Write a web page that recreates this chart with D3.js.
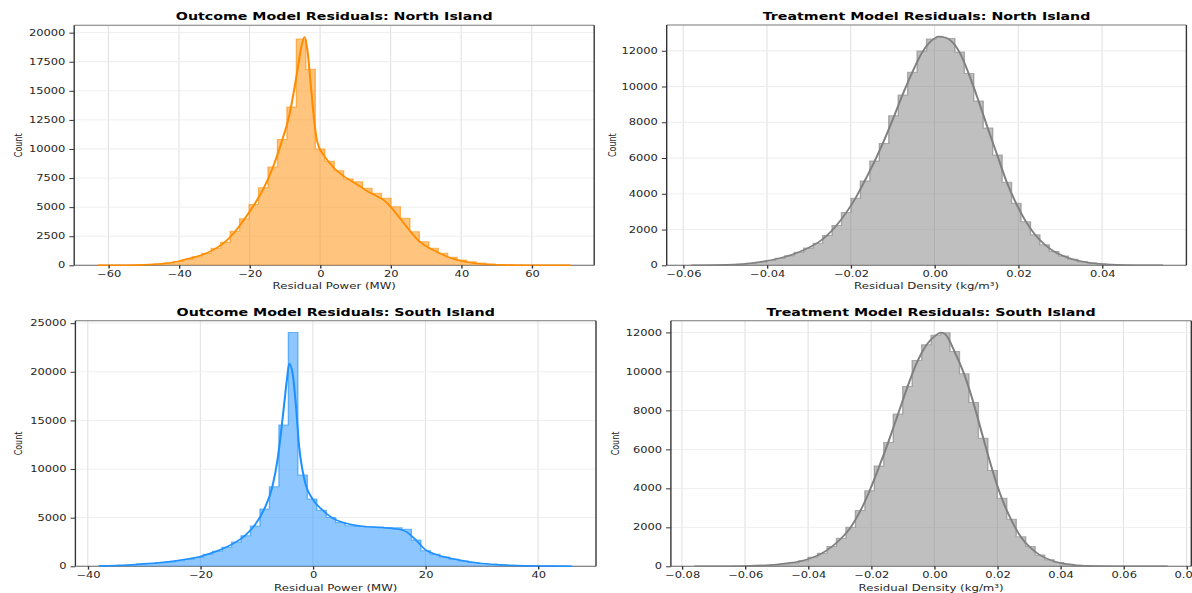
<!DOCTYPE html>
<html>
<head>
<meta charset="utf-8">
<script src="https://cdn.jsdelivr.net/npm/d3@7"></script>
<style>
  body { margin: 0; background: #fff; }
  svg { display: block; }
  text { font-family: "DejaVu Sans", sans-serif; fill: #262626; }
</style>
</head>
<body>
<div class="chart"></div>
<script>
// ---- data (50 equal bins over [min, max] of each residual series) ----
const northPowerRange = [-63, 71];
const northPowerCounts = [2, 4, 8, 15, 30, 60, 110, 200, 330, 500,
  740, 1030, 1460, 1980, 2920, 4000, 5220, 6660, 8460, 10820,
  13600, 19450, 16850, 10000, 8950, 8130, 7420, 7190, 6620, 6190,
  5760, 5040, 4040, 2890, 2030, 1460, 1030, 690, 456, 310,
  200, 120, 70, 40, 22, 12, 7, 4, 2, 1];
const northPowerKde = [[-63,2],[-55,12],[-50,40],[-45,130],[-40,360],[-37.5,560],[-34.9,760],[-32.2,1050],
  [-29.5,1470],[-26.8,2050],[-24.1,2900],[-21.5,3950],[-18.8,5150],[-16.1,6550],[-13.4,8400],[-10.7,10800],
  [-8.8,12800],[-7.4,15000],[-6.4,16800],[-5.5,18500],[-4.4,19650],[-3.6,18500],[-2.6,15400],[-1.7,12500],
  [-1.0,10900],[-0.3,10150],[1.2,9400],[4.0,8350],[6.5,7700],[8.8,7250],[11,6850],[13.5,6350],[16,5950],
  [18.3,5550],[20.5,4850],[23,3900],[25.5,2950],[27.8,2150],[30,1650],[32.5,1250],[35,880],[37.5,580],
  [40,370],[42.5,230],[45,130],[50,38],[55,11],[60,4],[65,2],[71,1]];

const northDensityRange = [-0.0583, 0.0545];
const northDensityCounts = [2, 4, 8, 15, 30, 55, 95, 160, 270, 390,
  540, 730, 970, 1232, 1661, 2230, 2960, 3750, 4720, 5840,
  6810, 8370, 9520, 10800, 11980, 12660, 12740, 12690, 11930, 10730,
  9190, 7680, 6170, 4650, 3470, 2440, 1715, 1150, 765, 522,
  336, 205, 125, 72, 40, 22, 12, 6, 3, 2];
const northDensityKde = [[-0.058,2],[-0.052,12],[-0.048,40],[-0.044,110],[-0.0414,200],[-0.0391,290],
  [-0.0369,400],[-0.0346,550],[-0.0324,740],[-0.0301,980],[-0.0279,1260],[-0.0256,1680],[-0.0234,2230],
  [-0.0211,2940],[-0.0188,3780],[-0.0166,4750],[-0.0143,5820],[-0.0121,6950],[-0.0098,8250],[-0.0076,9550],
  [-0.0053,10800],[-0.0031,11850],[-0.0008,12550],[0.0010,12800],[0.0025,12750],[0.0037,12600],[0.0060,11900],
  [0.0082,10700],[0.0105,9200],[0.0127,7680],[0.0150,6150],[0.0172,4680],[0.0195,3450],[0.0218,2450],
  [0.0240,1720],[0.0263,1160],[0.0285,780],[0.0308,520],[0.0330,340],[0.0353,210],[0.0375,130],[0.040,75],
  [0.045,22],[0.050,6],[0.0545,2]];

const southPowerRange = [-38.0, 46.1];
const southPowerCounts = [50, 80, 120, 170, 230, 290, 360, 450, 560, 700,
  900, 1230, 1560, 1960, 2510, 3150, 4150, 5900, 8170, 14540,
  24050, 9380, 6920, 5770, 5020, 4510, 4180, 4080, 4060, 4030,
  4000, 3960, 3800, 2710, 1590, 1240, 960, 720, 540, 400,
  290, 210, 150, 105, 75, 52, 36, 25, 17, 12];
const southPowerKde = [[-38,40],[-35,90],[-32,170],[-30,250],[-27,400],[-24,600],[-22,780],[-20.3,950],
  [-18.7,1240],[-17,1570],[-15.3,1990],[-13.6,2520],[-11.9,3250],[-10.25,4300],[-8.6,5950],[-7.2,8200],
  [-6.3,10900],[-5.7,13600],[-5.1,16700],[-4.6,19300],[-4.2,20850],[-3.6,19800],[-3.0,16400],[-2.45,12300],
  [-1.86,9900],[-1.26,8350],[-0.1,6950],[1.7,5780],[3.5,4950],[6.4,4350],[9.4,4080],[12.3,3980],[15.3,3800],
  [16.6,3550],[18.3,2700],[20,1700],[21.7,1250],[23.5,950],[26,640],[28,450],[30,300],[33,170],[36,90],
  [40,40],[43,22],[46,12]];

const southDensityRange = [-0.076, 0.074];
const southDensityCounts = [1, 2, 3, 5, 8, 13, 22, 38, 62, 105,
  175, 290, 460, 670, 1010, 1440, 2000, 2860, 3880, 5150,
  6350, 7810, 9220, 10560, 11370, 11850, 11980, 11020, 9880, 8400,
  6570, 4910, 3490, 2410, 1520, 1010, 580, 330, 190, 110,
  60, 35, 20, 12, 7, 4, 3, 2, 1, 1];
const southDensityKde = [[-0.076,2],[-0.06,20],[-0.05,90],[-0.045,190],[-0.0415,300],[-0.0385,460],
  [-0.0355,680],[-0.0325,1000],[-0.0295,1430],[-0.0265,2000],[-0.0235,2820],[-0.0205,3870],[-0.0175,5100],
  [-0.0145,6400],[-0.0115,7800],[-0.0085,9200],[-0.0055,10450],[-0.0025,11350],[0.0005,11850],[0.0021,12000],
  [0.0035,11900],[0.0065,11000],[0.0095,9850],[0.0125,8350],[0.0155,6600],[0.0185,4900],[0.0215,3450],
  [0.0245,2350],[0.0275,1500],[0.0305,950],[0.0335,580],[0.0365,340],[0.04,170],[0.045,60],[0.05,20],
  [0.06,4],[0.074,1]];

// tick values
const powerNorthXTicks = [-60, -40, -20, 0, 20, 40, 60];
const powerSouthXTicks = [-40, -20, 0, 20, 40];
const densityNorthXTicks = [-0.06, -0.04, -0.02, 0, 0.02, 0.04];
const densitySouthXTicks = [-0.08, -0.06, -0.04, -0.02, 0, 0.02, 0.04, 0.06, 0.08];
const northPowerYTicks = [0, 2500, 5000, 7500, 10000, 12500, 15000, 17500, 20000];
const southPowerYTicks = [0, 5000, 10000, 15000, 20000, 25000];
const densityYTicks = [0, 2000, 4000, 6000, 8000, 10000, 12000];

// the picture is stretched horizontally, so draw in a narrower frame and scale x
const SX = 1.38;

const svg = d3.select('.chart').append('svg')
  .attr('width', 1192)
  .attr('height', 593);
const root = svg.append('g').attr('transform', `scale(${SX},1)`);

const panels = [
  {title: 'Outcome Model Residuals: North Island', xlabel: 'Residual Power (MW)',
   range: northPowerRange, counts: northPowerCounts, kde: northPowerKde, color: '#ff8c00',
   xTicks: powerNorthXTicks, yTicks: northPowerYTicks, fmt: d3.format('d'),
   box: [74.2, 594.2, 25.3, 265.3], titleY: 20.5, xlabelY: 289, ylabelX: 22.3},
  {title: 'Treatment Model Residuals: North Island', xlabel: 'Residual Density (kg/m³)',
   range: northDensityRange, counts: northDensityCounts, kde: northDensityKde, color: '#808080',
   xTicks: densityNorthXTicks, yTicks: densityYTicks, fmt: d3.format('.2f'),
   box: [666.7, 1186.4, 25.0, 265.3], titleY: 20.5, xlabelY: 289, ylabelX: 615.5},
  {title: 'Outcome Model Residuals: South Island', xlabel: 'Residual Power (MW)',
   range: southPowerRange, counts: southPowerCounts, kde: southPowerKde, color: '#1e90ff',
   xTicks: powerSouthXTicks, yTicks: southPowerYTicks, fmt: d3.format('d'),
   box: [75.4, 596.0, 320.7, 566.3], titleY: 316.5, xlabelY: 591, ylabelX: 22.3},
  {title: 'Treatment Model Residuals: South Island', xlabel: 'Residual Density (kg/m³)',
   range: southDensityRange, counts: southDensityCounts, kde: southDensityKde, color: '#808080',
   xTicks: densitySouthXTicks, yTicks: densityYTicks, fmt: d3.format('.2f'),
   box: [670.9, 1191.3, 320.7, 566.3], titleY: 316.5, xlabelY: 591, ylabelX: 618.8}
];

function drawPanel(p) {
  const left = p.box[0] / SX, right = p.box[1] / SX;
  const top = p.box[2], bottom = p.box[3];
  const span = p.range[1] - p.range[0];
  const bw = span / p.counts.length;

  const xScale = d3.scaleLinear()
    .domain([p.range[0] - span * 0.05, p.range[1] + span * 0.05])
    .range([left, right]);
  const ymax = Math.max(d3.max(p.counts), d3.max(p.kde, d => d[1])) * 1.05;
  const yScale = d3.scaleLinear().domain([0, ymax]).range([bottom, top]);

  const g = root.append('g');

  // grid
  g.selectAll('.vgrid').data(p.xTicks.filter(t => xScale(t) <= right)).enter()
    .append('line')
    .attr('x1', d => xScale(d)).attr('x2', d => xScale(d))
    .attr('y1', top).attr('y2', bottom)
    .attr('stroke', '#e2e2e2').attr('stroke-width', 0.8);
  g.selectAll('.hgrid').data(p.yTicks).enter()
    .append('line')
    .attr('x1', left).attr('x2', right)
    .attr('y1', d => yScale(d)).attr('y2', d => yScale(d))
    .attr('stroke', '#ebebeb').attr('stroke-width', 0.8);

  // bottom spine under the bars
  g.append('line')
    .attr('x1', left).attr('x2', right).attr('y1', bottom).attr('y2', bottom)
    .attr('stroke', '#666').attr('stroke-width', 1);

  // histogram as a filled step shape with a step outline
  const steps = p.counts.map((c, i) => [p.range[0] + i * bw, c]);
  steps.push([p.range[1], p.counts[p.counts.length - 1]]);
  const area = d3.area()
    .x(d => xScale(d[0]))
    .y0(bottom)
    .y1(d => yScale(d[1]))
    .curve(d3.curveStepAfter);
  g.append('path').datum(steps)
    .attr('d', area)
    .attr('fill', p.color).attr('fill-opacity', 0.5);
  const outline = [[p.range[0], 0]].concat(steps, [[p.range[1], 0]]);
  const stepLine = d3.line()
    .x(d => xScale(d[0]))
    .y(d => yScale(d[1]))
    .curve(d3.curveStepAfter);
  g.append('path').datum(outline)
    .attr('d', stepLine)
    .attr('fill', 'none')
    .attr('stroke', p.color).attr('stroke-opacity', 0.6).attr('stroke-width', 1);

  // kde line
  const line = d3.line()
    .x(d => xScale(d[0]))
    .y(d => yScale(d[1]))
    .curve(d3.curveMonotoneX);
  g.append('path').datum(p.kde)
    .attr('d', line)
    .attr('fill', 'none')
    .attr('stroke', p.color)
    .attr('stroke-width', 1.5);

  // other spines
  g.append('line').attr('x1', left).attr('x2', right).attr('y1', top).attr('y2', top)
    .attr('stroke', '#777').attr('stroke-width', 1);
  g.append('line').attr('x1', left).attr('x2', left).attr('y1', top).attr('y2', bottom)
    .attr('stroke', '#333').attr('stroke-width', 1);
  g.append('line').attr('x1', right).attr('x2', right).attr('y1', top).attr('y2', bottom)
    .attr('stroke', '#333').attr('stroke-width', 1);

  // axes
  const xAxis = d3.axisBottom(xScale).tickValues(p.xTicks).tickFormat(p.fmt)
    .tickSize(3.3).tickPadding(3);
  const xg = g.append('g').attr('transform', `translate(0,${bottom})`).call(xAxis);
  const yAxis = d3.axisLeft(yScale).tickValues(p.yTicks).tickFormat(d3.format('d'))
    .tickSize(3.5).tickPadding(2.9);
  const yg = g.append('g').attr('transform', `translate(${left},0)`).call(yAxis);
  [xg, yg].forEach(a => {
    a.select('.domain').remove();
    a.selectAll('.tick line').attr('stroke', '#333');
    a.selectAll('.tick text')
      .attr('font-family', '"DejaVu Sans", sans-serif')
      .attr('font-size', 8.3)
      .attr('fill', '#262626');
  });

  // labels
  g.append('text')
    .attr('x', (left + right) / 2).attr('y', p.titleY)
    .attr('text-anchor', 'middle')
    .attr('font-size', 10.3).attr('font-weight', 'bold')
    .style('fill', '#000')
    .text(p.title);
  g.append('text')
    .attr('x', (left + right) / 2).attr('y', p.xlabelY)
    .attr('text-anchor', 'middle')
    .attr('font-size', 8.5)
    .text(p.xlabel);
  g.append('text')
    .attr('transform', `translate(${p.ylabelX / SX},${(top + bottom) / 2}) rotate(-90)`)
    .attr('text-anchor', 'middle')
    .attr('font-size', 8)
    .text('Count');
}

panels.forEach(drawPanel);
</script>
</body>
</html>
